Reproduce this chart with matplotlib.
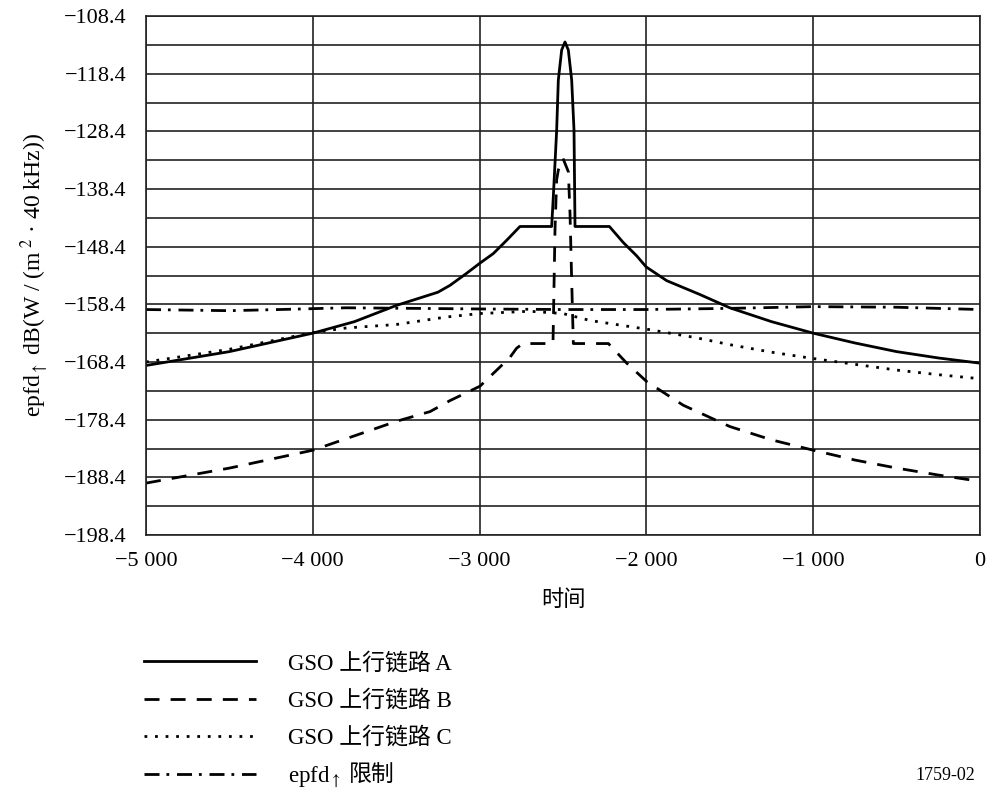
import matplotlib
matplotlib.use("Agg")
import matplotlib.pyplot as plt

plt.rcParams['font.family'] = ['Liberation Serif', 'Noto Sans CJK SC']
plt.rcParams['mathtext.fontset'] = 'stix'

# ---------------- data ----------------
a_x = [-5000, -4500, -4000, -3750, -3500, -3250, -3177, -3077, -3000, -2918, -2838, -2758,
       -2568, -2558, -2538, -2528, -2508, -2488, -2468, -2448, -2434, -2428,
       -2222, -2138, -2058, -2002, -1878, -1679, -1500, -1250, -1000, -750, -500, -250, 0]
a_y = [-169.0, -166.6, -163.4, -161.4, -158.6, -156.3, -155.1, -153.0, -151.3, -149.6, -147.3, -144.9,
       -144.9, -139.7, -128.2, -119.5, -114.3, -112.9, -114.3, -119.5, -128.2, -144.9,
       -144.9, -147.7, -150.0, -151.9, -154.3, -156.7, -159.0, -161.4, -163.4, -165.1, -166.6, -167.7, -168.6]

b_x = [-5000, -4500, -4000, -3500, -3297, -3178, -2998, -2897, -2818, -2778, -2740,
       -2560, -2555, -2548, -2538, -2528, -2500, -2468, -2458, -2448, -2438,
       -2228, -2118, -1998, -1779, -1499, -1250, -999, -750, -499, -250, 0]
b_y = [-189.4, -186.8, -183.7, -178.7, -177.0, -175.1, -172.6, -169.8, -167.6, -166.0, -165.2,
       -165.2, -157.1, -145.5, -136.8, -135.1, -133.1, -135.4, -142.6, -154.2, -165.2,
       -165.2, -168.6, -171.8, -175.9, -179.6, -181.9, -183.7, -185.4, -186.8, -188.0, -189.1]

c_x = [-5000, -4500, -4000, -3800, -3500, -3200, -3000, -2700, -2500, -2338,
       -1978, -1700, -1499, -1250, -1000, -750, -500, -250, 0]
c_y = [-168.4, -166.2, -163.3, -162.5, -161.9, -160.6, -160.0, -159.6, -160.0, -161.2,
       -162.8, -164.2, -165.4, -166.7, -167.8, -168.8, -169.8, -170.6, -171.3]

lim_x = [-5000, -4500, -4200, -3800, -3400, -3000, -2500, -2000, -1500, -1000, -500, 0]
lim_y = [-159.3, -159.5, -159.3, -159.0, -159.1, -159.2, -159.3, -159.3, -159.1, -158.8, -158.9, -159.3]

x_ticks = [-5000, -4000, -3000, -2000, -1000, 0]
x_tick_labels = ['−5 000', '−4 000', '−3 000', '−2 000', '−1 000', '0']
y_ticks = [-108.4, -118.4, -128.4, -138.4, -148.4, -158.4, -168.4, -178.4, -188.4, -198.4]
y_tick_labels = ['−108.4', '−118.4', '−128.4', '−138.4', '−148.4', '−158.4',
                 '−168.4', '−178.4', '−188.4', '−198.4']
y_minor = [-113.4, -123.4, -133.4, -143.4, -153.4, -163.4, -173.4, -183.4, -193.4]

labels = ['GSO 上行链路 A', 'GSO 上行链路 B', 'GSO 上行链路 C', 'epfd$_{\\uparrow}$']
limit_word = '限制'

# ---------------- figure ----------------
W, H = 988, 792
fig = plt.figure(figsize=(W / 100, H / 100), dpi=100)
ax = fig.add_axes([146 / W, 1 - 535 / H, (980 - 146) / W, (535 - 16) / H])

lw = 2.0
lA, = ax.plot(a_x, a_y, color='black', lw=lw, solid_joinstyle='round')
lB, = ax.plot(b_x, b_y, color='black', lw=lw, dashes=(5.4, 4.0))
lC, = ax.plot(c_x, c_y, color='black', lw=lw, dashes=(1, 2.8))
lD, = ax.plot(lim_x, lim_y, color='black', lw=lw, dashes=(5.4, 2.5, 1, 2.8))

ax.set_xlim(-5000, 0)
ax.set_ylim(-198.4, -108.4)
ax.set_xticks(x_ticks)
ax.set_xticklabels(x_tick_labels)
ax.set_yticks(y_ticks)
ax.set_yticklabels(y_tick_labels)
ax.set_yticks(y_minor, minor=True)
ax.tick_params(axis='both', which='both', length=0, labelsize=16)
ax.tick_params(axis='y', pad=14)
ax.tick_params(axis='x', pad=12)
ax.grid(True, which='both', axis='y', color='#222222', lw=1.2)
ax.grid(True, which='major', axis='x', color='#222222', lw=1.2)
ax.set_axisbelow(True)
for s in ax.spines.values():
    s.set_linewidth(1.2)
    s.set_color('#222222')

ax.set_xlabel('时间', fontsize=16, labelpad=14)
ax.set_ylabel('epfd$_{\\uparrow}$ dB(W / (m$^{\\ 2}$ · 40 kHz))', fontsize=17, labelpad=10)

leg = fig.legend([lA, lB, lC, lD], labels, loc='upper left',
                 bbox_to_anchor=(123 / W, 1 - 632 / H), frameon=False,
                 fontsize=16.5, handlelength=4.9, handletextpad=1.4, labelspacing=0.68)

fig.canvas.draw()
r = fig.canvas.get_renderer()
bb = leg.get_texts()[3].get_window_extent(r)
fig.text((bb.x1 + 8) / W, (bb.y0 + bb.y1) / 2 / H + 1.5 / H, limit_word,
         ha='left', va='center', fontsize=16.5)

fig.text(975 / W, 1 - 775 / H, '1759-02', ha='right', va='center', fontsize=13)

fig.savefig('out.png', dpi=100)
